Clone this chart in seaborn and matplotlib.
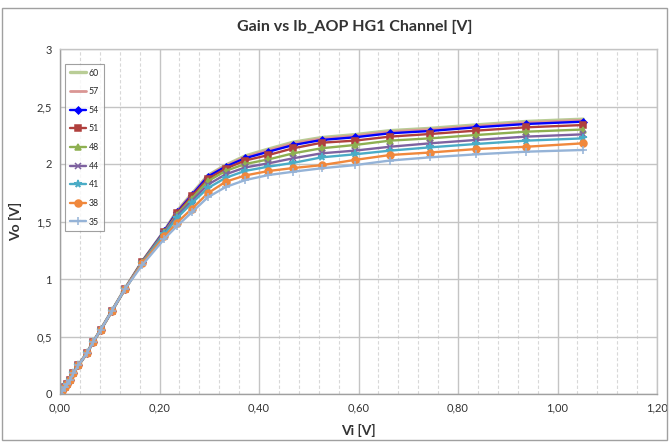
import matplotlib
matplotlib.use("Agg")
import matplotlib.pyplot as plt
from matplotlib.patches import Rectangle
from matplotlib.ticker import FuncFormatter, MultipleLocator
import numpy as np
import pandas as pd
import seaborn as sns

# Input voltage sweep (V)
vi = [0, 0.005, 0.01, 0.015, 0.02, 0.027, 0.037, 0.054, 0.067, 0.082, 0.104,
      0.13, 0.165, 0.21, 0.235, 0.265, 0.297, 0.333, 0.372, 0.419, 0.469,
      0.526, 0.592, 0.663, 0.744, 0.836, 0.937, 1.052]

# Shared linear region (V)
low = [0, 0.03, 0.06, 0.09, 0.12, 0.18, 0.25, 0.355, 0.455, 0.56, 0.72, 0.91]

# Output voltage per bias setting (V)
vo_60 = low + [1.15, 1.42, 1.59, 1.74, 1.90, 1.99, 2.07, 2.13, 2.19, 2.23, 2.255, 2.29, 2.31, 2.34, 2.37, 2.39]
vo_57 = low + [1.15, 1.42, 1.585, 1.735, 1.895, 1.985, 2.06, 2.12, 2.18, 2.22, 2.245, 2.28, 2.30, 2.33, 2.36, 2.38]
vo_54 = low + [1.15, 1.42, 1.58, 1.73, 1.89, 1.977, 2.05, 2.107, 2.165, 2.209, 2.232, 2.267, 2.287, 2.319, 2.348, 2.368]
vo_51 = low + [1.15, 1.41, 1.57, 1.72, 1.87, 1.96, 2.03, 2.078, 2.137, 2.185, 2.203, 2.238, 2.261, 2.29, 2.319, 2.339]
vo_48 = low + [1.145, 1.41, 1.56, 1.70, 1.85, 1.94, 2.00, 2.04, 2.093, 2.137, 2.165, 2.203, 2.223, 2.252, 2.281, 2.30]
vo_44 = low + [1.14, 1.40, 1.55, 1.68, 1.82, 1.91, 1.97, 2.006, 2.05, 2.093, 2.116, 2.15, 2.18, 2.209, 2.238, 2.258]
vo_41 = low + [1.14, 1.39, 1.53, 1.66, 1.79, 1.88, 1.94, 1.977, 2.01, 2.058, 2.084, 2.116, 2.145, 2.174, 2.203, 2.223]
vo_38 = low + [1.135, 1.37, 1.49, 1.61, 1.745, 1.846, 1.90, 1.939, 1.965, 1.99, 2.035, 2.078, 2.10, 2.13, 2.15, 2.18]
vo_35 = low + [1.12, 1.35, 1.46, 1.58, 1.71, 1.80, 1.86, 1.904, 1.933, 1.963, 1.99, 2.03, 2.058, 2.084, 2.107, 2.122]

labels = ["60", "57", "54", "51", "48", "44", "41", "38", "35"]
series = [vo_60, vo_57, vo_54, vo_51, vo_48, vo_44, vo_41, vo_38, vo_35]

styles = {
    "60": dict(color="#B9CD96", marker=None, lw=2.4, ms=0),
    "57": dict(color="#DA9694", marker=None, lw=2.0, ms=0),
    "54": dict(color="#0000FF", marker="D", lw=1.7, ms=3.5),
    "51": dict(color="#B0403D", marker="s", lw=1.7, ms=4.5),
    "48": dict(color="#8EB051", marker="^", lw=1.7, ms=5),
    "44": dict(color="#7E62A0", marker="x", lw=1.7, ms=4.5),
    "41": dict(color="#4AACC6", marker="*", lw=1.7, ms=5.5),
    "38": dict(color="#F0883C", marker="o", lw=1.7, ms=5),
    "35": dict(color="#95B3D7", marker="+", lw=1.7, ms=6),
}

sns.set_theme(style="white")
plt.rcParams["font.family"] = ["Lato", "DejaVu Sans"]

fig = plt.figure(figsize=(6.7, 4.43), dpi=100)
ax = fig.add_axes([60 / 670, 1 - 394 / 443, 597 / 670, 345 / 443])

for lab, vals in zip(labels, series):
    st = styles[lab]
    df = pd.DataFrame({"Vi": vi, "Vo": vals})
    kw = {}
    if st["marker"] is not None:
        kw = dict(marker=st["marker"], markersize=st["ms"],
                  markeredgecolor=st["color"], markerfacecolor=st["color"],
                  markeredgewidth=1.1)
    sns.lineplot(data=df, x="Vi", y="Vo", ax=ax, color=st["color"],
                 linewidth=st["lw"], label=lab, sort=False, **kw)

ax.set_xlim(0, 1.2)
ax.set_ylim(0, 3)
ax.xaxis.set_major_locator(MultipleLocator(0.2))
ax.xaxis.set_minor_locator(MultipleLocator(0.04))
ax.yaxis.set_major_locator(MultipleLocator(0.5))
ax.xaxis.set_major_formatter(FuncFormatter(lambda v, p: f"{v:.2f}".replace(".", ",")))
ax.yaxis.set_major_formatter(FuncFormatter(lambda v, p: (f"{v:g}").replace(".", ",")))

ax.grid(which="major", axis="both", color="#C4C4C4", linewidth=1.0, linestyle="-")
ax.grid(which="minor", axis="x", color="#D8D8D8", linewidth=0.8, linestyle=(0, (3, 2)))
ax.set_axisbelow(True)
for s in ax.spines.values():
    s.set_color("#C4C4C4")
    s.set_linewidth(1.0)
ax.spines["left"].set_color("#A0A0A0")
ax.spines["bottom"].set_color("#A0A0A0")

ax.tick_params(axis="both", which="both", length=0, labelsize=8, colors="#333333", pad=6)

ax.set_xlabel("Vi [V]", fontsize=10, fontweight="bold", color="#333333", labelpad=8)
ax.set_ylabel("Vo [V]", fontsize=10, fontweight="bold", color="#333333", labelpad=10)
fig.text(355 / 670, 1 - 27 / 443, "Gain vs Ib_AOP HG1 Channel [V]", ha="center",
         va="center", fontsize=11.5, fontweight="bold", color="#333333")

leg = ax.legend(loc="upper left", bbox_to_anchor=(0.004, 0.965), fontsize=6.3,
                frameon=True, fancybox=False, edgecolor="#888888", handlelength=1.9,
                handletextpad=0.25, labelspacing=1.1, borderpad=0.55, borderaxespad=0.3)
leg.get_frame().set_linewidth(0.8)

fig.patches.append(Rectangle((2 / 670, 3 / 443), 665 / 670, 432 / 443, transform=fig.transFigure,
                             fill=False, edgecolor="#A0A0A0", linewidth=1.0))

fig.savefig("out.png", dpi=100)
